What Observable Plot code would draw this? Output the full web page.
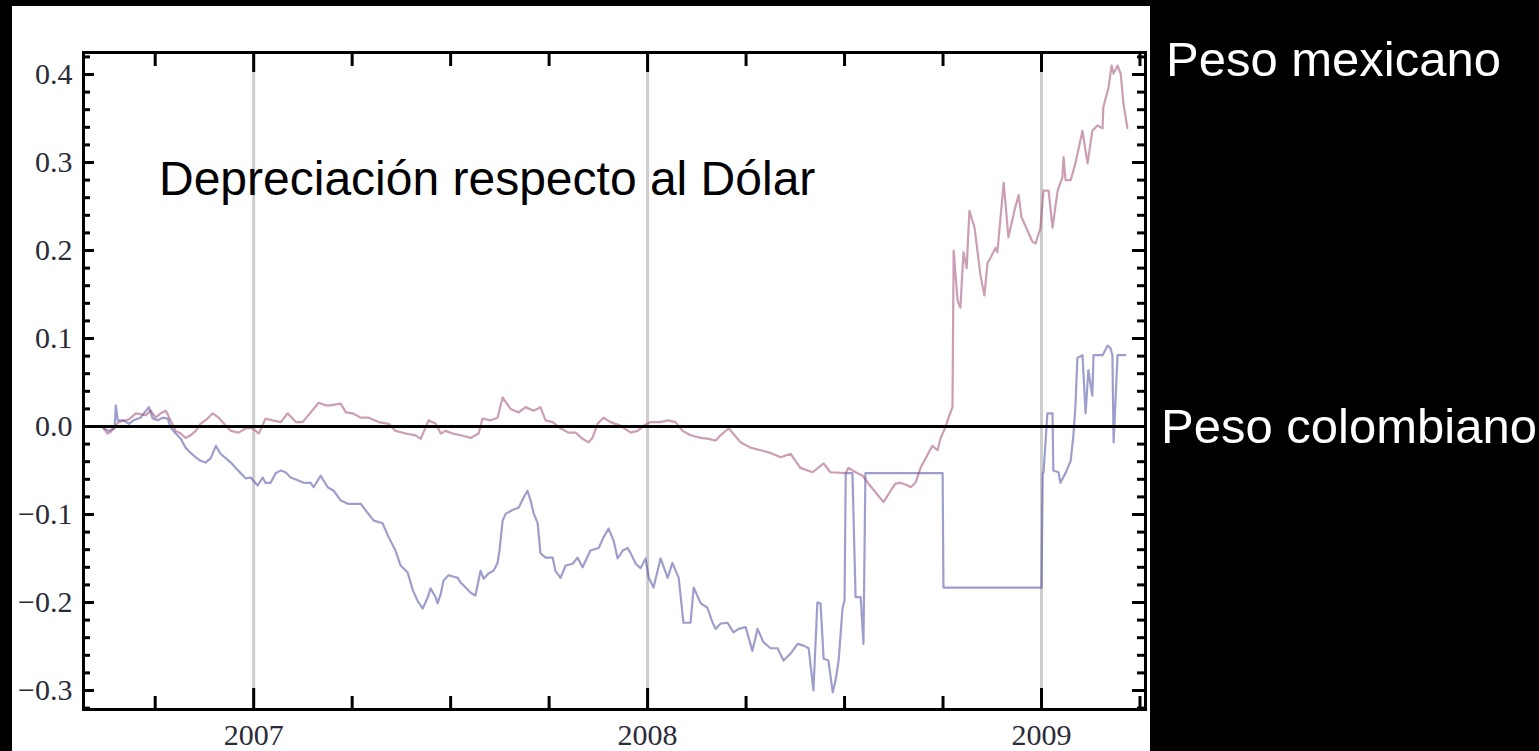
<!DOCTYPE html>
<html><head><meta charset="utf-8">
<script src="https://cdn.jsdelivr.net/npm/d3@7"></script>
<script src="https://cdn.jsdelivr.net/npm/@observablehq/plot@0.6"></script>
<style>
html,body{margin:0;padding:0;background:#000;width:1539px;height:751px;overflow:hidden;}
#panel{position:absolute;left:12px;top:6px;width:1138px;height:745px;background:#fff;}
#title{position:absolute;left:159px;top:155px;font-size:48px;font-family:"Liberation Sans",Arial,sans-serif;color:#000;white-space:nowrap;line-height:48px;z-index:2}
.side{position:absolute;font-size:49px;font-family:"Liberation Sans",Arial,sans-serif;color:#fff;white-space:nowrap;line-height:49px}
</style></head><body>
<div id="panel"></div>
<div id="title">Depreciación respecto al Dólar</div>
<div class="side" style="left:1166px;top:35px">Peso mexicano</div>
<div class="side" style="left:1161px;top:402px">Peso colombiano</div>
<script>
// Decimal year, depreciation vs USD
const mexico = [
[2006.619,-0.002],[2006.629,-0.008],[2006.637,-0.006],[2006.645,-0.002],[2006.657,0.005],[2006.683,0.008],
[2006.701,0.015],[2006.726,0.013],[2006.739,0.018],[2006.751,0.010],[2006.764,0.015],[2006.777,0.018],
[2006.789,0.007],[2006.802,-0.005],[2006.815,-0.008],[2006.827,-0.013],[2006.840,-0.010],[2006.853,-0.005],
[2006.865,0.003],[2006.883,0.009],[2006.896,0.015],[2006.911,0.010],[2006.921,0.005],[2006.942,-0.005],
[2006.962,-0.007],[2006.980,-0.002],[2006.997,-0.002],[2007.013,-0.008],[2007.030,0.009],[2007.048,0.007],
[2007.069,0.005],[2007.086,0.015],[2007.107,0.005],[2007.124,0.005],[2007.145,0.016],[2007.165,0.027],
[2007.183,0.024],[2007.195,0.024],[2007.221,0.026],[2007.234,0.016],[2007.251,0.015],[2007.272,0.010],
[2007.292,0.010],[2007.317,0.005],[2007.343,0.003],[2007.360,-0.005],[2007.386,-0.008],[2007.411,-0.010],
[2007.424,-0.014],[2007.444,0.007],[2007.462,0.003],[2007.475,-0.008],[2007.487,-0.005],[2007.505,-0.008],
[2007.525,-0.010],[2007.551,-0.013],[2007.571,-0.008],[2007.581,0.009],[2007.602,0.007],[2007.619,0.010],
[2007.632,0.033],[2007.652,0.020],[2007.673,0.016],[2007.690,0.022],[2007.711,0.018],[2007.728,0.022],
[2007.741,0.007],[2007.759,0.005],[2007.779,-0.002],[2007.799,-0.007],[2007.817,-0.007],[2007.835,-0.014],
[2007.850,-0.018],[2007.860,-0.013],[2007.873,0.003],[2007.888,0.010],[2007.906,0.005],[2007.931,0.001],
[2007.957,-0.007],[2007.975,-0.005],[2007.990,0.001],[2008.008,0.005],[2008.033,0.005],[2008.051,0.007],
[2008.071,0.005],[2008.089,-0.005],[2008.109,-0.010],[2008.135,-0.013],[2008.155,-0.014],[2008.173,-0.016],
[2008.185,-0.010],[2008.206,-0.002],[2008.236,-0.018],[2008.261,-0.024],[2008.287,-0.027],[2008.312,-0.030],
[2008.338,-0.035],[2008.363,-0.031],[2008.388,-0.047],[2008.419,-0.052],[2008.447,-0.042],[2008.464,-0.052],
[2008.503,-0.053],[2008.510,-0.047],[2008.528,-0.052],[2008.546,-0.056],[2008.561,-0.065],[2008.579,-0.075],
[2008.599,-0.086],[2008.617,-0.073],[2008.629,-0.065],[2008.642,-0.064],[2008.660,-0.067],[2008.668,-0.069],
[2008.680,-0.064],[2008.693,-0.047],[2008.706,-0.036],[2008.723,-0.022],[2008.736,-0.027],[2008.744,-0.013],
[2008.756,-0.001],[2008.764,0.010],[2008.774,0.022],[2008.777,0.200],[2008.787,0.143],[2008.794,0.135],
[2008.802,0.198],[2008.810,0.180],[2008.817,0.245],[2008.830,0.226],[2008.845,0.172],[2008.855,0.149],
[2008.863,0.186],[2008.871,0.192],[2008.883,0.203],[2008.888,0.198],[2008.904,0.277],[2008.916,0.215],
[2008.931,0.245],[2008.942,0.263],[2008.949,0.238],[2008.964,0.223],[2008.977,0.210],[2008.985,0.208],
[2008.997,0.225],[2009.005,0.268],[2009.018,0.268],[2009.028,0.226],[2009.041,0.268],[2009.053,0.283],
[2009.056,0.306],[2009.061,0.280],[2009.074,0.280],[2009.086,0.299],[2009.104,0.336],[2009.117,0.299],
[2009.129,0.336],[2009.142,0.342],[2009.155,0.339],[2009.157,0.363],[2009.170,0.385],[2009.178,0.410],
[2009.183,0.401],[2009.193,0.410],[2009.201,0.401],[2009.208,0.367],[2009.218,0.339]
];
const colombia = [
[2006.619,-0.002],[2006.632,-0.005],[2006.647,-0.002],[2006.650,0.024],[2006.655,0.007],[2006.670,0.007],
[2006.683,0.003],[2006.695,0.007],[2006.713,0.010],[2006.734,0.022],[2006.744,0.009],[2006.756,0.007],
[2006.769,0.010],[2006.782,0.009],[2006.789,-0.001],[2006.802,-0.008],[2006.815,-0.014],[2006.827,-0.024],
[2006.840,-0.030],[2006.853,-0.035],[2006.865,-0.039],[2006.878,-0.041],[2006.891,-0.036],[2006.904,-0.022],
[2006.916,-0.031],[2006.929,-0.036],[2006.942,-0.041],[2006.954,-0.047],[2006.967,-0.053],[2006.980,-0.059],
[2006.992,-0.058],[2007.010,-0.067],[2007.023,-0.058],[2007.030,-0.064],[2007.043,-0.064],[2007.056,-0.053],
[2007.069,-0.050],[2007.081,-0.052],[2007.094,-0.058],[2007.112,-0.061],[2007.127,-0.064],[2007.145,-0.064],
[2007.152,-0.069],[2007.170,-0.056],[2007.188,-0.069],[2007.203,-0.073],[2007.221,-0.084],[2007.241,-0.088],
[2007.272,-0.088],[2007.289,-0.098],[2007.305,-0.107],[2007.327,-0.110],[2007.343,-0.126],[2007.360,-0.141],
[2007.373,-0.158],[2007.391,-0.166],[2007.404,-0.186],[2007.416,-0.198],[2007.429,-0.207],[2007.442,-0.194],
[2007.449,-0.184],[2007.462,-0.194],[2007.467,-0.201],[2007.475,-0.190],[2007.482,-0.175],[2007.495,-0.169],
[2007.518,-0.172],[2007.525,-0.177],[2007.538,-0.183],[2007.551,-0.189],[2007.563,-0.192],[2007.576,-0.164],
[2007.584,-0.173],[2007.596,-0.167],[2007.609,-0.164],[2007.619,-0.155],[2007.624,-0.141],[2007.632,-0.107],
[2007.640,-0.099],[2007.657,-0.095],[2007.673,-0.092],[2007.685,-0.081],[2007.695,-0.073],[2007.703,-0.084],
[2007.711,-0.099],[2007.721,-0.110],[2007.728,-0.144],[2007.741,-0.149],[2007.759,-0.149],[2007.766,-0.164],
[2007.779,-0.172],[2007.792,-0.158],[2007.810,-0.156],[2007.822,-0.149],[2007.835,-0.160],[2007.855,-0.141],
[2007.876,-0.138],[2007.888,-0.126],[2007.901,-0.116],[2007.914,-0.130],[2007.924,-0.150],[2007.937,-0.141],
[2007.949,-0.138],[2007.957,-0.144],[2007.970,-0.156],[2007.982,-0.161],[2007.995,-0.150],[2008.003,-0.172],
[2008.015,-0.183],[2008.033,-0.150],[2008.051,-0.172],[2008.063,-0.155],[2008.079,-0.172],[2008.091,-0.223],
[2008.109,-0.223],[2008.117,-0.183],[2008.135,-0.201],[2008.152,-0.206],[2008.165,-0.223],[2008.173,-0.230],
[2008.185,-0.224],[2008.203,-0.223],[2008.218,-0.234],[2008.231,-0.230],[2008.249,-0.228],[2008.266,-0.255],
[2008.279,-0.230],[2008.294,-0.245],[2008.312,-0.252],[2008.330,-0.252],[2008.345,-0.266],[2008.363,-0.258],
[2008.381,-0.247],[2008.396,-0.249],[2008.409,-0.252],[2008.421,-0.300],[2008.431,-0.200],[2008.439,-0.201],
[2008.447,-0.264],[2008.459,-0.266],[2008.470,-0.302],[2008.477,-0.289],[2008.485,-0.266],[2008.495,-0.206],
[2008.500,-0.198],[2008.503,-0.053],[2008.510,-0.053],[2008.520,-0.053],[2008.528,-0.194],[2008.541,-0.194],
[2008.548,-0.247],[2008.553,-0.053],[2008.749,-0.053],[2008.751,-0.183],[2009.000,-0.183],[2009.003,-0.053],
[2009.005,-0.053],[2009.015,0.015],[2009.028,0.015],[2009.030,-0.050],[2009.043,-0.052],[2009.048,-0.064],
[2009.061,-0.053],[2009.074,-0.039],[2009.081,-0.010],[2009.086,0.022],[2009.091,0.078],[2009.104,0.081],
[2009.112,0.015],[2009.119,0.064],[2009.129,0.035],[2009.132,0.081],[2009.155,0.081],[2009.168,0.092],
[2009.175,0.089],[2009.180,0.081],[2009.183,-0.018],[2009.193,0.081],[2009.213,0.081]
];
const yearTicks = [2007, 2008, 2009];
const quarterTicks = [2006.75, 2007.25, 2007.5, 2007.75, 2008.25, 2008.5, 2008.75, 2009.25];
const yMajor = [-0.3, -0.2, -0.1, 0, 0.1, 0.2, 0.3, 0.4];
const yMinor = [-0.32,-0.28,-0.26,-0.24,-0.22,-0.18,-0.16,-0.14,-0.12,-0.08,-0.06,-0.04,-0.02,
  0.02,0.04,0.06,0.08,0.12,0.14,0.16,0.18,0.22,0.24,0.26,0.28,0.32,0.34,0.36,0.38,0.42];
const xDomain = [2006.568, 2009.264];
const yDomain = [-0.3216, 0.425];

const toRows = arr => arr.map(([t, v]) => ({t, v}));
const W = 1138, H = 745, mL = 71, mR = 5, mT = 46, mB = 42;
const fW = W - mL - mR, fH = H - mT - mB;
const tk = {stroke: "black", strokeWidth: 3};

const chart = Plot.plot({
  width: W, height: H,
  marginLeft: mL, marginRight: mR, marginTop: mT, marginBottom: mB,
  style: {background: "white", fontFamily: "'Liberation Serif', 'Times New Roman', serif", fontSize: "30px", color: "#2b2b3a", overflow: "visible"},
  x: {type: "linear", domain: xDomain, label: null},
  y: {type: "linear", domain: yDomain, label: null},
  marks: [
    Plot.ruleX(yearTicks, {stroke: "#cccccc", strokeWidth: 3}),
    Plot.line(toRows(colombia), {x: "t", y: "v", stroke: "#3d3d99", strokeOpacity: 0.5, strokeWidth: 2.2}),
    Plot.line(toRows(mexico), {x: "t", y: "v", stroke: "#993d6b", strokeOpacity: 0.5, strokeWidth: 2.2}),
    Plot.ruleY([0], {stroke: "black", strokeWidth: 3}),
    // inside ticks, bottom & top
    Plot.ruleX(yearTicks, {...tk, insetTop: fH - 21}),
    Plot.ruleX(yearTicks, {...tk, insetBottom: fH - 20}),
    Plot.ruleX(quarterTicks, {...tk, insetTop: fH - 13}),
    Plot.ruleX(quarterTicks, {...tk, insetBottom: fH - 14}),
    // inside ticks, left & right
    Plot.ruleY(yMajor, {...tk, insetRight: fW - 11}),
    Plot.ruleY(yMajor, {...tk, insetLeft: fW - 13}),
    Plot.ruleY(yMinor, {...tk, insetRight: fW - 7}),
    Plot.ruleY(yMinor, {...tk, insetLeft: fW - 8}),
    Plot.frame({stroke: "black", strokeWidth: 3}),
    Plot.axisY({ticks: yMajor, anchor: "left", tickSize: 0, tickPadding: 11, tickFormat: d3.format(".1f"), label: null, fill: "#2b2b3a"}),
    Plot.axisX({ticks: yearTicks, anchor: "bottom", tickSize: 0, tickPadding: 14, tickFormat: d3.format("d"), label: null, fill: "#2b2b3a"})
  ]
});
document.getElementById("panel").appendChild(chart);
</script>
</body></html>
